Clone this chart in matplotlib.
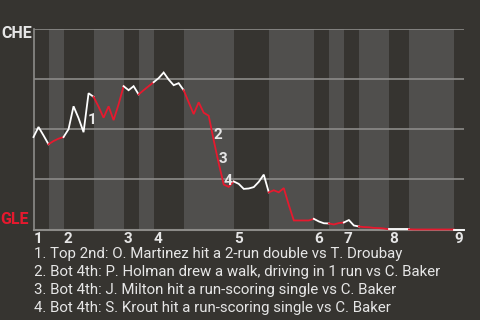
import matplotlib
matplotlib.use("Agg")
import matplotlib.pyplot as plt

plt.rcParams['font.family'] = ['Roboto', 'DejaVu Sans']

# ---- data ----
# win probability for CHE after each plate appearance (index = PA number)
wp = [0.46, 0.51, 0.468, 0.424, 0.44, 0.452, 0.46, 0.499, 0.613, 0.554,
      0.484, 0.678, 0.66, 0.611, 0.556, 0.613, 0.544, 0.623, 0.713, 0.693,
      0.713, 0.672, 0.693, 0.713, 0.733, 0.753, 0.781, 0.746, 0.718, 0.728,
      0.693, 0.633, 0.574, 0.633, 0.581, 0.566, 0.444, 0.329, 0.224, 0.212,
      0.239, 0.227, 0.202, 0.204, 0.211, 0.237, 0.273, 0.185, 0.195, 0.185,
      0.206, 0.122, 0.045, 0.045, 0.045, 0.045, 0.053, 0.040, 0.031, 0.030,
      0.025, 0.032, 0.035, 0.047, 0.020, 0.015, 0.012, 0.011, 0.008, 0.007,
      0.005, 0.001, 0.001, 0.001, 0.001, 0.001, 0.0, 0.0, 0.0, 0.0,
      0.0, 0.0, 0.0, 0.0, 0.0, 0.0, 0.0]
# PA index where each half inning starts (last = end of data)
half_bounds = [0, 3, 6, 12, 18, 21, 24, 30, 40, 47, 56, 59, 62, 65, 71, 75, 84, 86]
innings = ['1', '2', '3', '4', '5', '6', '7', '8', '9']
inning_starts = [0, 6, 18, 24, 40, 56, 62, 71, 84]
event_idx = [11, 36, 37, 38]
event_labels = ['1', '2', '3', '4']
notes = [
    "1. Top 2nd: O. Martinez hit a 2-run double vs T. Droubay",
    "2. Bot 4th: P. Holman drew a walk, driving in 1 run vs C. Baker",
    "3. Bot 4th: J. Milton hit a run-scoring single vs C. Baker",
    "4. Bot 4th: S. Krout hit a run-scoring single vs C. Baker",
]
away, home = "CHE", "GLE"

# ---- style ----
BG = '#363430'
BAND = '#504f4d'
GRID = '#8c8b88'
RED = '#e6192e'
WHITE = '#ffffff'
TXT = '#e6e6e6'

fig = plt.figure(figsize=(4.8, 3.2), dpi=100, facecolor=BG)
ax = fig.add_axes([33.5 / 480, 1 - 229.5 / 320, (464 - 33.5) / 480, 201 / 320])
ax.set_facecolor(BG)
ax.set_xlim(half_bounds[0], half_bounds[-1])
ax.set_ylim(0, 1)

# half-inning bands (bottom halves lighter)
for i in range(len(half_bounds) - 1):
    if i % 2 == 1:
        ax.axvspan(half_bounds[i], half_bounds[i + 1], color=BAND, lw=0, zorder=0)

for yv in [0.25, 0.5, 0.75, 1.0]:
    ax.axhline(yv, color=GRID, lw=1.2, zorder=1)

for s in ['top', 'right']:
    ax.spines[s].set_visible(False)
ax.spines['left'].set_color(GRID)
ax.spines['bottom'].set_color(GRID)
ax.spines['left'].set_linewidth(1.2)
ax.spines['bottom'].set_linewidth(1.5)
ax.spines['bottom'].set_zorder(2)

# line, coloured by batting team
for i in range(len(half_bounds) - 1):
    a, b = half_bounds[i], half_bounds[i + 1]
    xs = list(range(a, b + 1))
    ys = wp[a:b + 1]
    ax.plot(xs, ys, color=WHITE if i % 2 == 0 else RED, lw=1.3,
            solid_joinstyle='miter', zorder=4, clip_on=False)

# event labels
for k, lab in zip(event_idx, event_labels):
    mx = k - 0.5
    my = (wp[k - 1] + wp[k]) / 2
    ax.annotate(lab, (mx, my), xytext=(1.5, 0), textcoords='offset points',
                ha='left', va='top', color=TXT, fontsize=11, fontweight='bold',
                zorder=5)

ax.set_yticks([])
ax.set_xticks(inning_starts)
ax.set_xticklabels(innings, fontsize=11, fontweight='bold', color=TXT)
ax.tick_params(axis='x', length=0, pad=1.5)
for t in ax.get_xticklabels():
    t.set_horizontalalignment('left')

fig.text(32 / 480, 1 - 34 / 320, away, ha='right', va='center', color=TXT,
         fontsize=11.5, fontweight='bold')
fig.text(29 / 480, 1 - 219 / 320, home, ha='right', va='center', color=RED,
         fontsize=11.5, fontweight='bold')

for i, n in enumerate(notes):
    fig.text(34 / 480, 1 - (258 + 17.9 * i) / 320, n, ha='left', va='baseline',
             color=TXT, fontsize=10.8)

fig.savefig('out.png', dpi=100, facecolor=BG)
